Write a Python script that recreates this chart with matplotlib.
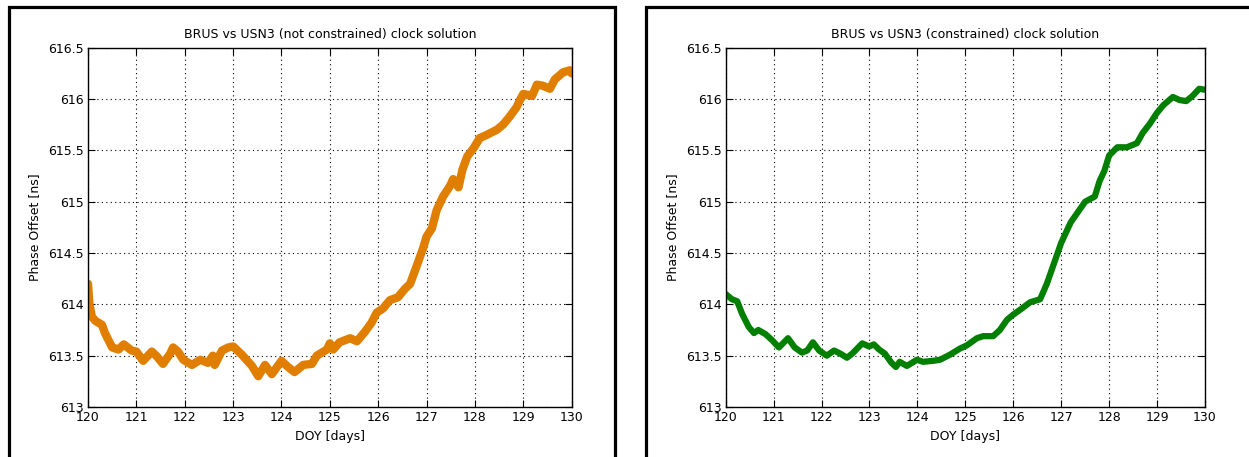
import matplotlib
matplotlib.use('Agg')
import matplotlib.pyplot as plt
from matplotlib.patches import Rectangle

# DOY / phase offset
doy_free = [120.0, 120.03, 120.08, 120.15, 120.29, 120.35, 120.5, 120.63, 120.74, 120.9,
            121.0, 121.14, 121.32, 121.43, 121.55, 121.7, 121.76, 121.86, 121.97, 122.15,
            122.32, 122.48, 122.58, 122.62, 122.77, 122.9, 123.0, 123.18, 123.39, 123.52,
            123.66, 123.8, 124.0, 124.11, 124.27, 124.45, 124.63, 124.73, 124.94, 125.0,
            125.07, 125.2, 125.42, 125.56, 125.72, 125.86, 125.97, 126.1, 126.24, 126.41,
            126.55, 126.66, 126.8, 126.93, 127.0, 127.11, 127.21, 127.34, 127.48, 127.55,
            127.66, 127.74, 127.84, 127.97, 128.1, 128.24, 128.45, 128.58, 128.72, 128.86,
            128.93, 129.0, 129.18, 129.28, 129.4, 129.55, 129.65, 129.82, 129.96, 130.0]
phase_free = [614.2, 614.0, 613.88, 613.84, 613.8, 613.72, 613.58, 613.56, 613.61, 613.55,
              613.54, 613.45, 613.54, 613.49, 613.42, 613.52, 613.58, 613.54, 613.46, 613.41,
              613.46, 613.43, 613.5, 613.41, 613.55, 613.58, 613.59, 613.51, 613.4, 613.3,
              613.41, 613.32, 613.45, 613.4, 613.34, 613.41, 613.42, 613.5, 613.56, 613.62,
              613.56, 613.63, 613.67, 613.64, 613.73, 613.82, 613.92, 613.96, 614.04, 614.07,
              614.15, 614.2, 614.38, 614.55, 614.66, 614.74, 614.92, 615.05, 615.15, 615.22,
              615.14, 615.31, 615.44, 615.52, 615.62, 615.65, 615.7, 615.75, 615.83, 615.92,
              615.99, 616.05, 616.03, 616.14, 616.13, 616.1, 616.19, 616.26, 616.28, 616.25]

doy_con = [120.0, 120.13, 120.24, 120.34, 120.48, 120.59, 120.68, 120.83, 120.97, 121.11,
           121.3, 121.44, 121.59, 121.7, 121.82, 121.95, 122.11, 122.26, 122.39, 122.53,
           122.64, 122.85, 122.99, 123.09, 123.2, 123.32, 123.46, 123.55, 123.63, 123.78,
           123.99, 124.12, 124.33, 124.47, 124.68, 124.89, 125.03, 125.24, 125.37, 125.58,
           125.72, 125.87, 126.0, 126.18, 126.35, 126.56, 126.7, 126.85, 127.0, 127.2,
           127.35, 127.5, 127.7, 127.8, 127.9, 128.0, 128.17, 128.37, 128.58, 128.7,
           128.85, 128.99, 129.13, 129.33, 129.47, 129.61, 129.74, 129.88, 130.0]
phase_con = [614.1, 614.05, 614.03, 613.91, 613.78, 613.72, 613.75, 613.71, 613.65, 613.58,
             613.67, 613.58, 613.53, 613.55, 613.63, 613.55, 613.5, 613.55, 613.52, 613.48,
             613.52, 613.62, 613.59, 613.61, 613.56, 613.52, 613.43, 613.39, 613.44, 613.4,
             613.46, 613.44, 613.45, 613.46, 613.51, 613.57, 613.6, 613.67, 613.69, 613.69,
             613.75, 613.85, 613.9, 613.96, 614.02, 614.05, 614.2, 614.4, 614.6, 614.8,
             614.9, 615.0, 615.05, 615.2, 615.3, 615.45, 615.53, 615.53, 615.57, 615.67,
             615.76, 615.86, 615.94, 616.02, 615.99, 615.98, 616.03, 616.1, 616.09]

xticks = list(range(120, 131))
yticks = [613, 613.5, 614, 614.5, 615, 615.5, 616, 616.5]
ytick_labels = ['613', '613.5', '614', '614.5', '615', '615.5', '616', '616.5']

plt.rcParams['font.family'] = ['DejaVu Sans']

fig = plt.figure(figsize=(12.49, 4.57), dpi=100)
W, H = 1249, 457

# outer panel frames
fig.add_artist(Rectangle((8.5 / W, -0.1), (615 - 8.5) / W, 1.1 - 7.5 / H,
                         transform=fig.transFigure, fill=False, lw=2.3, ec='black'))
fig.add_artist(Rectangle((645.5 / W, -0.1), 0.6, 1.1 - 7.5 / H,
                         transform=fig.transFigure, fill=False, lw=2.3, ec='black'))

panels = [
    (88, 571.7, doy_free, phase_free, '#e07e00', 6.0, 'BRUS vs USN3 (not constrained) clock solution'),
    (725.7, 1205, doy_con, phase_con, '#007f00', 4.5, 'BRUS vs USN3 (constrained) clock solution'),
]

for x0, x1, xs, ys, col, lw, title in panels:
    ax = fig.add_axes([x0 / W, 1 - 407 / H, (x1 - x0) / W, (407 - 47.7) / H])
    ax.plot(xs, ys, color=col, lw=lw, solid_joinstyle='round', solid_capstyle='round')
    ax.set_xlim(120, 130)
    ax.set_ylim(613, 616.5)
    ax.set_xticks(xticks)
    ax.set_yticks(yticks)
    ax.set_yticklabels(ytick_labels)
    ax.grid(True, color='black', linestyle=(0, (1, 3)), linewidth=0.8)
    ax.tick_params(direction='in', top=True, right=True, length=5, width=0.8,
                   labelsize=9, pad=3)
    for s in ax.spines.values():
        s.set_linewidth(1.0)
    ax.set_title(title, fontsize=9, pad=7)
    ax.set_xlabel('DOY [days]', fontsize=9, labelpad=4)
    ax.set_ylabel('Phase Offset [ns]', fontsize=9, labelpad=5)

fig.savefig('out.png', dpi=100)
